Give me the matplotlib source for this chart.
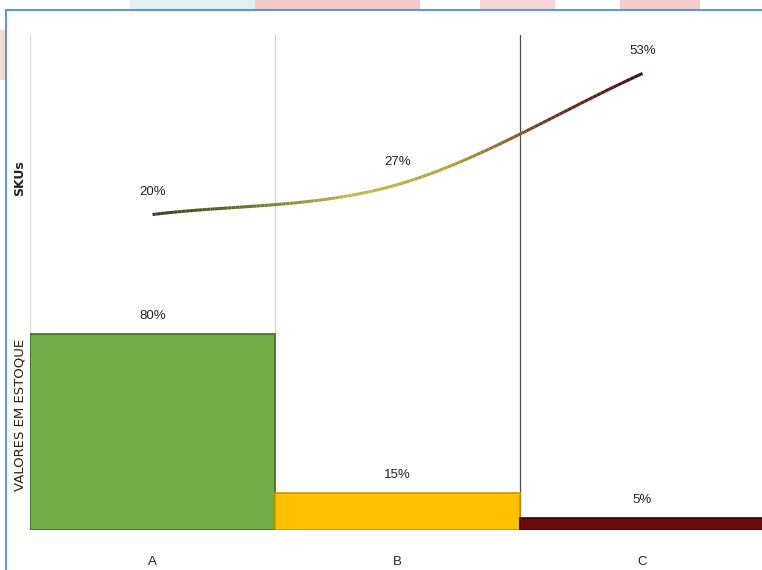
from __future__ import annotations

import matplotlib
matplotlib.use("Agg")

import matplotlib.pyplot as plt
import numpy as np
from matplotlib.collections import LineCollection
from matplotlib.colors import LinearSegmentedColormap
from matplotlib.patches import Rectangle

CLASSES = ["A", "B", "C"]
SKU_PCT = [20, 27, 53]
STOCK_PCT = [80, 15, 5]

BAR_COLORS = ["#70ad47", "#ffc000", "#6b0a0a"]
BAR_EDGES = ["#3f6e25", "#c99700", "#3d0000"]
FONT = ["Liberation Sans Narrow", "Liberation Sans", "DejaVu Sans"]

plt.rcParams["font.family"] = FONT


def smooth_curve(xs, ys, steps=60):
    # Catmull-Rom style smoothing, only for drawing the line the way the source does
    xs = np.asarray(xs, float)
    ys = np.asarray(ys, float)
    px = np.concatenate([[2 * xs[0] - xs[1]], xs, [2 * xs[-1] - xs[-2]]])
    py = np.concatenate([[2 * ys[0] - ys[1]], ys, [2 * ys[-1] - ys[-2]]])
    out_x, out_y = [], []
    t = np.linspace(0, 1, steps)
    for i in range(1, len(px) - 2):
        for arr, out in ((px, out_x), (py, out_y)):
            p0, p1, p2, p3 = arr[i - 1], arr[i], arr[i + 1], arr[i + 2]
            out.append(0.5 * ((2 * p1) + (-p0 + p2) * t
                              + (2 * p0 - 5 * p1 + 4 * p2 - p3) * t ** 2
                              + (-p0 + 3 * p1 - 3 * p2 + p3) * t ** 3))
    return np.concatenate(out_x), np.concatenate(out_y)


fig = plt.figure(figsize=(7.62, 5.70), dpi=100)
fig.patch.set_facecolor("white")

W, H = 762, 570
left, right = 30, 762
ax_top = fig.add_axes([left / W, (H - 300) / H, (right - left) / W, 265 / H])
ax_bot = fig.add_axes([left / W, (H - 530) / H, (right - left) / W, 230 / H])

x = np.arange(len(CLASSES))
xlim = (-0.5, -0.5 + (right - left) / 245)

for ax in (ax_top, ax_bot):
    ax.set_xlim(*xlim)
    for s in ax.spines.values():
        s.set_visible(False)
    ax.set_yticks([])
    ax.tick_params(length=0)
    ax.patch.set_alpha(0)

ax_top.set_ylim(0, 62)
ax_bot.set_ylim(0, 94)
ax_top.set_xticks([])

# column dividers
for ax in (ax_top, ax_bot):
    ax.axvline(-0.5, color="#d9d9d9", lw=0.8, zorder=0)
    ax.axvline(0.5, color="#cfcfcf", lw=0.8, zorder=0)
    ax.axvline(1.5, color="#505050", lw=0.9, zorder=0)

# bars
for i, (v, c, e) in enumerate(zip(STOCK_PCT, BAR_COLORS, BAR_EDGES)):
    ax_bot.bar(x[i], v, width=1.0, color=c, edgecolor=e, linewidth=1.2, zorder=2)
    ax_bot.annotate(f"{v}%", (x[i], v), xytext=(0, 13), textcoords="offset points",
                    ha="center", va="center", fontsize=9.5, color="#222222")

ax_bot.set_xticks(x)
ax_bot.set_xticklabels(CLASSES, fontsize=9.5, color="#222222")
ax_bot.tick_params(axis="x", pad=19)

# gradient line
cx, cy = smooth_curve(x, SKU_PCT)
pts = np.column_stack([cx, cy]).reshape(-1, 1, 2)
segs = np.concatenate([pts[:-1], pts[1:]], axis=1)
cmap = LinearSegmentedColormap.from_list(
    "sku", ["#36421c", "#6f7430", "#c2bb50", "#b4a443", "#6b3a22", "#3a0e10"])
lc = LineCollection(segs, cmap=cmap, norm=plt.Normalize(0, 2), linewidth=2.2, zorder=3)
lc.set_array(cx[:-1])
ax_top.add_collection(lc)

for i, v in enumerate(SKU_PCT):
    ax_top.annotate(f"{v}%", (x[i], v), xytext=(0, 16), textcoords="offset points",
                    ha="center", va="center", fontsize=9.5, color="#222222")

# axis titles
fig.text(20 / W, 1 - 178 / H, "SKUs", rotation=90, ha="center", va="center",
         fontsize=9, fontweight="bold", color="#222222", family="DejaVu Sans")
fig.text(20 / W, 1 - 415 / H, "VALORES EM ESTOQUE", rotation=90, ha="center", va="center",
         fontsize=9.5, color="#222222", family="DejaVu Sans")

# screenshot frame
fig.add_artist(plt.Line2D([6 / W, 6 / W], [0, 1 - 10 / H], color="#5b9bd5", lw=1.5))
fig.add_artist(plt.Line2D([6 / W, 1], [1 - 10 / H, 1 - 10 / H], color="#5b9bd5", lw=1.5))
for x0, x1, col in [(130, 255, "#e3f0f2"), (255, 420, "#f3c9c9"), (480, 555, "#f6d6d6"),
                    (620, 700, "#f3cccc")]:
    fig.add_artist(Rectangle((x0 / W, 1 - 9 / H), (x1 - x0) / W, 9 / H,
                             transform=fig.transFigure, color=col, lw=0))
fig.add_artist(Rectangle((0, 1 - 80 / H), 5 / W, 50 / H, transform=fig.transFigure,
                         color="#f6d6d6", lw=0))

fig.savefig("out.png", dpi=100)
